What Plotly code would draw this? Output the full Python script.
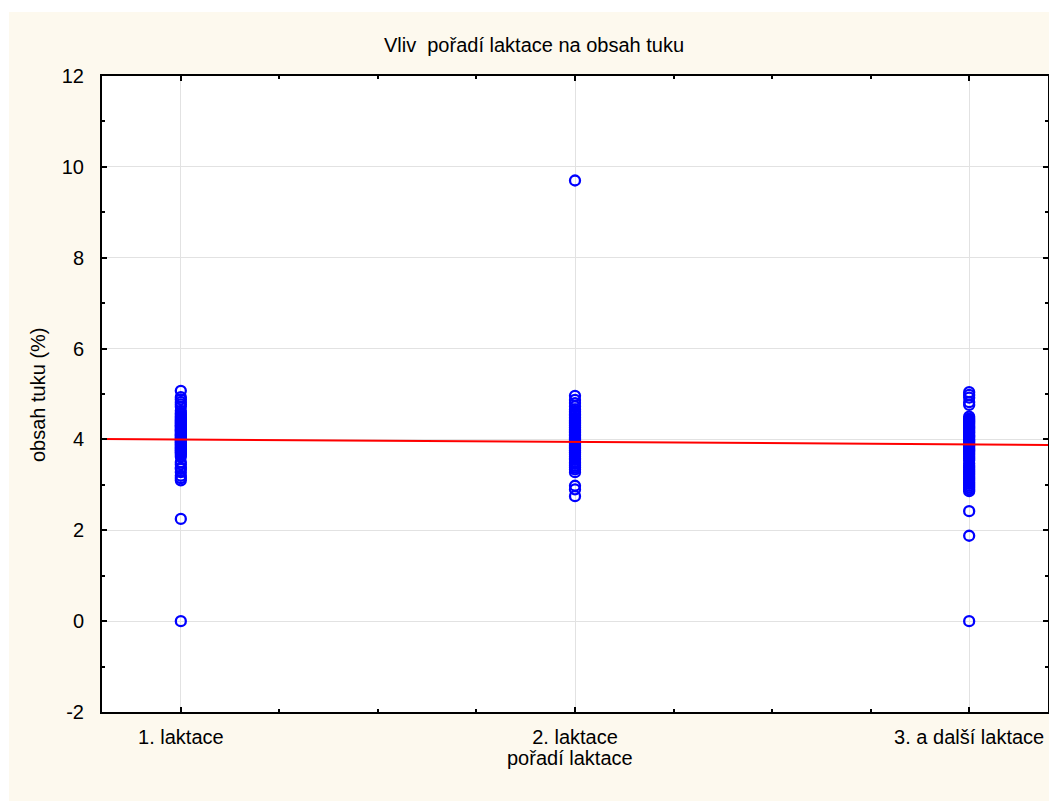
import plotly.graph_objects as go

categories = ["1. laktace", "2. laktace", "3. a další laktace"]
cat_pos = [1, 2, 3]
y_ticks = [-2, 0, 2, 4, 6, 8, 10, 12]
y_tick_labels = ["-2", "0", "2", "4", "6", "8", "10", "12"]

fat_lact1 = [5.07, 4.93, 4.88, 4.82, 4.77, 4.72,
             4.63, 4.58, 4.55, 4.51, 4.48, 4.45, 4.42, 4.40, 4.37, 4.35, 4.32, 4.30,
             4.28, 4.25, 4.22, 4.20, 4.18, 4.15, 4.12, 4.10, 4.08, 4.05, 4.03, 4.00,
             3.98, 3.95, 3.93, 3.90, 3.88, 3.85, 3.82, 3.80, 3.77, 3.75, 3.72, 3.70,
             3.66, 3.62, 3.50, 3.45, 3.38, 3.35, 3.28, 3.20, 3.15, 3.10, 2.25, 0.00]

fat_lact2 = [9.70, 4.96, 4.87, 4.80, 4.73,
             4.66, 4.62, 4.58, 4.55, 4.52, 4.48, 4.45, 4.42, 4.40, 4.37, 4.35, 4.32,
             4.30, 4.27, 4.25, 4.22, 4.20, 4.17, 4.15, 4.12, 4.10, 4.08, 4.05, 4.02,
             4.00, 3.97, 3.95, 3.92, 3.90, 3.87, 3.85, 3.82, 3.80, 3.77, 3.75, 3.72,
             3.70, 3.66, 3.62, 3.58, 3.55, 3.50, 3.46, 3.42, 3.38, 3.34, 3.28,
             2.98, 2.90, 2.75]

fat_lact3 = [5.04, 4.98, 4.92, 4.82, 4.76,
             4.50, 4.46, 4.43, 4.40, 4.37, 4.34, 4.30, 4.27, 4.24, 4.20, 4.17, 4.14,
             4.10, 4.07, 4.04, 4.00, 3.97, 3.94, 3.90, 3.87, 3.84, 3.80, 3.77, 3.74,
             3.70, 3.66, 3.62, 3.58, 3.54, 3.47, 3.42, 3.38, 3.34, 3.30, 3.26, 3.22,
             3.18, 3.14, 3.10, 3.06, 3.02, 2.98, 2.94, 2.90, 2.86, 2.42, 1.88, 0.00]

fit_x = [0.8, 3.2]
fit_y = [4.01, 3.88]

FONT = "Liberation Sans, Arial, sans-serif"
FS = 20
fig = go.Figure()

for pos, vals in zip(cat_pos, [fat_lact1, fat_lact2, fat_lact3]):
    fig.add_trace(go.Scatter(
        x=[pos] * len(vals), y=vals, mode="markers",
        marker=dict(symbol="circle-open", size=10, color="#0000FF",
                    line=dict(width=2.3, color="#0000FF")),
        showlegend=False, hoverinfo="y"))

fig.add_trace(go.Scatter(x=fit_x, y=fit_y, mode="lines",
                         line=dict(color="#FF0000", width=2),
                         showlegend=False))

OFF = 8  # page body margin
W, H = 1057 - OFF, 801 - OFF
# plot area in page coordinates: x 102..1048, y 76..712
L = 102 - OFF
R = W - (1048 - OFF)
T = 76 - OFF
B = H - (712 - OFF)
pw, ph = W - L - R, H - T - B

def px_x(xp):
    return (xp - OFF - L) / pw

def px_y(yp):
    return (T + ph - (yp - OFF)) / ph

shapes = [
    dict(type="rect", xref="paper", yref="paper", x0=px_x(-20), x1=px_x(9),
         y0=px_y(900), y1=px_y(-20), fillcolor="white", line=dict(width=0), layer="below"),
    dict(type="rect", xref="paper", yref="paper", x0=px_x(-20), x1=px_x(1100),
         y0=px_y(12), y1=px_y(-20), fillcolor="white", line=dict(width=0), layer="below"),
]

fig.update_layout(
    width=W, height=H,
    margin=dict(l=L, r=R, t=T, b=B, pad=0),
    paper_bgcolor="#FDF9EE", plot_bgcolor="white",
    font=dict(family=FONT, size=FS, color="black"),
    shapes=shapes,
    title=dict(text="Vliv\u00a0 pořadí laktace na obsah tuku",
               x=(534 - OFF) / W, xref="container",
               y=1 - (45 - OFF) / H, yref="container",
               xanchor="center", yanchor="middle",
               font=dict(size=FS, family=FONT, color="black")),
    xaxis=dict(range=[0.8, 3.2], tickvals=cat_pos, ticktext=categories,
               showline=True, linecolor="black", linewidth=2, mirror="ticks",
               ticks="inside", ticklen=5, tickwidth=2, tickcolor="black",
               showgrid=True, gridcolor="#E2E2E2", gridwidth=1, zeroline=False,
               minor=dict(dtick=0.25, tick0=0, ticks="inside", ticklen=3,
                          tickwidth=2, tickcolor="black", showgrid=False),
               ticklabelstandoff=6, automargin=False,
               tickfont=dict(size=FS, family=FONT)),
    yaxis=dict(range=[-2, 12], tickvals=y_ticks, ticktext=y_tick_labels,
               showline=True, linecolor="black", linewidth=2, mirror="ticks",
               ticks="inside", ticklen=5, tickwidth=2, tickcolor="black",
               showgrid=True, gridcolor="#E2E2E2", gridwidth=1, zeroline=False,
               minor=dict(dtick=1, tick0=0, ticks="inside", ticklen=3,
                          tickwidth=2, tickcolor="black", showgrid=False),
               ticklabelstandoff=12, automargin=False,
               tickfont=dict(size=FS, family=FONT)),
    annotations=[
        dict(text="pořadí laktace", xref="paper", yref="paper",
             x=px_x(570), y=px_y(758), showarrow=False,
             xanchor="center", yanchor="middle", font=dict(size=FS, family=FONT)),
        dict(text="obsah tuku (%)", xref="paper", yref="paper",
             x=px_x(38), y=px_y(395), showarrow=False, textangle=-90,
             xanchor="center", yanchor="middle", font=dict(size=FS, family=FONT)),
    ],
)

fig.write_html("out.html")
